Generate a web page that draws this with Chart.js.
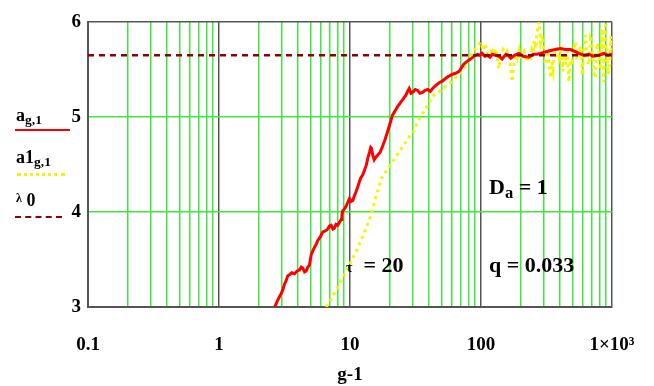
<!DOCTYPE html>
<html>
<head>
<meta charset="utf-8">
<script src="https://cdn.jsdelivr.net/npm/chart.js@4.4.1/dist/chart.umd.min.js"></script>
<style>
  html, body { margin: 0; padding: 0; background: #fff; }
  #wrap { position: relative; width: 654px; height: 386px; font-family: "Liberation Serif", "Times New Roman", serif; font-weight: bold; color: #000; }
  #chart { position: absolute; left: 0; top: 0; }
  .lbl { position: absolute; white-space: nowrap; line-height: 1; }
  .lbl sub { font-size: 75%; vertical-align: -0.25em; }
  .key { position: absolute; height: 0; }
</style>
</head>
<body>
<div id="wrap">
  <canvas id="chart" width="654" height="386"></canvas>

  <!-- legend on the left, Mathcad style -->
  <div class="lbl" style="left:16px;top:106px;font-size:18px">a<sub>g,1</sub></div>
  <div class="key" style="left:15px;top:129px;width:55px;border-top:2px solid #ff0000"></div>
  <div class="lbl" style="left:16px;top:148px;font-size:18px">a1<sub>g,1</sub></div>
  <div class="key" style="left:17px;top:173px;width:48px;border-top:3px dotted #f5f500"></div>
  <div class="lbl" style="left:16px;top:191px;font-size:18px"><span style="font-size:12px;vertical-align:4px">λ</span> 0</div>
  <div class="key" style="left:15px;top:216px;width:47px;border-top:2px dashed #8b0000"></div>

  <!-- annotations -->
  <div class="lbl" style="left:489px;top:176px;font-size:22px">D<sub>a</sub> = 1</div>
  <div class="lbl" style="left:346px;top:254px;font-size:22px"><span style="font-size:14px">τ</span>&nbsp; = 20</div>
  <div class="lbl" style="left:489px;top:254px;font-size:22px">q = 0.033</div>
</div>

<script>
// x axis: decades and their labels
const xDecades = [0.1, 1, 10, 100, 1000];
const xDecadeLabels = ['0.1', '1', '10', '100', '1×10³'];
const yTicks = [3, 4, 5, 6];

// a g,1 (red)
const redX = [2.66, 2.78, 2.90, 2.98, 3.07, 3.16, 3.26, 3.35, 3.45, 3.60,
  3.77, 3.95, 4.12, 4.24, 4.36, 4.50, 4.63, 4.77, 4.91, 4.98,
  5.06, 5.20, 5.36, 5.52, 5.68, 5.95, 6.20, 6.48, 6.76, 6.95,
  7.18, 7.40, 7.60, 7.82, 8.05, 8.30, 8.55, 8.68, 8.79, 9.05,
  9.33, 9.60, 9.89, 10.2, 10.5, 10.8, 11.1, 11.5, 11.8, 12.1,
  12.5, 12.9, 13.3, 13.7, 14.1, 14.4, 14.6, 14.9, 15.3, 15.8,
  16.3, 17.0, 17.7, 18.5, 19.4, 20.0, 20.5, 21.1, 22.0, 23.1,
  24.5, 25.5, 26.7, 27.5, 28.3, 29.2, 30.1, 31.5, 32.8, 34.2,
  35.8, 37.5, 39.1, 41.0, 42.7, 45.0, 48.0, 51.0, 54.0, 57.0,
  60.6, 64.0, 68.1, 71.0, 74.3, 77.5, 81.1, 85.0, 88.5, 93.9,
  98, 102, 107, 112, 117, 122, 129, 137, 145, 155,
  162, 169, 180, 195, 210, 232, 250, 267, 285, 300,
  320, 340, 370, 405, 440, 483, 520, 558, 610, 665,
  720, 794, 870, 930, 1000];
const redY = [3.00, 3.06, 3.11, 3.14, 3.18, 3.24, 3.28, 3.33, 3.34, 3.36,
  3.35, 3.38, 3.39, 3.42, 3.41, 3.37, 3.38, 3.42, 3.44, 3.50,
  3.55, 3.59, 3.63, 3.66, 3.70, 3.74, 3.79, 3.80, 3.82, 3.85,
  3.86, 3.82, 3.83, 3.87, 3.86, 3.89, 3.92, 3.97, 4.01, 4.03,
  4.06, 4.10, 4.14, 4.11, 4.12, 4.17, 4.21, 4.27, 4.32, 4.36,
  4.39, 4.44, 4.49, 4.57, 4.63, 4.68, 4.67, 4.60, 4.55, 4.58,
  4.60, 4.63, 4.69, 4.76, 4.85, 4.91, 4.96, 5.02, 5.06, 5.11,
  5.16, 5.19, 5.23, 5.27, 5.30, 5.25, 5.26, 5.29, 5.28, 5.25,
  5.26, 5.28, 5.29, 5.27, 5.30, 5.33, 5.36, 5.38, 5.41, 5.43,
  5.45, 5.46, 5.48, 5.52, 5.56, 5.58, 5.60, 5.62, 5.64, 5.66,
  5.65, 5.67, 5.64, 5.65, 5.63, 5.66, 5.65, 5.64, 5.61, 5.66,
  5.65, 5.62, 5.65, 5.67, 5.64, 5.63, 5.66, 5.66, 5.67, 5.68,
  5.69, 5.70, 5.71, 5.72, 5.71, 5.71, 5.69, 5.67, 5.65, 5.66,
  5.64, 5.65, 5.67, 5.65, 5.66];

// a1 g,1 (yellow dotted)
const yelX = [6.58, 7.38, 8.30, 9.33, 10.2, 11.1, 12.5, 14.1, 15.3, 17.3,
  19.95, 22.4, 25.2, 28.3, 30.9, 32.8, 35.8, 39.1, 42.7, 48.0,
  57.1, 64.3, 72.1, 78.7, 83.6, 87, 91.2, 95, 99.6, 102,
  104, 107, 109, 112, 114, 117, 119, 122, 125, 128,
  130, 134, 137, 140, 143, 147, 150, 155, 159, 163,
  166, 170, 173, 176, 179, 184, 189, 195, 200, 206,
  213, 219, 226, 232, 239, 245, 250, 255, 261, 268,
  277, 285, 294, 302, 311, 318, 325, 332, 340, 348,
  355, 363, 371, 380, 388, 396, 405, 414, 423, 432,
  442, 455, 469, 482, 497, 512, 527, 542, 558, 575,
  592, 610, 628, 646, 665, 685, 705, 726, 748, 770,
  793, 816, 840, 852, 865, 878, 891, 905, 918, 940,
  962, 980, 1000];
const yelY = [3.00, 3.11, 3.25, 3.37, 3.48, 3.58, 3.74, 3.92, 4.09, 4.35,
  4.48, 4.58, 4.69, 4.79, 4.86, 4.95, 5.04, 5.12, 5.22, 5.27,
  5.35, 5.42, 5.49, 5.56, 5.64, 5.70, 5.72, 5.76, 5.79, 5.74,
  5.70, 5.77, 5.74, 5.66, 5.62, 5.70, 5.69, 5.73, 5.66, 5.70,
  5.72, 5.60, 5.51, 5.62, 5.64, 5.71, 5.69, 5.63, 5.69, 5.66,
  5.58, 5.48, 5.37, 5.50, 5.55, 5.66, 5.62, 5.70, 5.60, 5.66,
  5.69, 5.62, 5.58, 5.66, 5.63, 5.71, 5.68, 5.80, 5.72, 5.90,
  6.00, 5.78, 5.86, 5.70, 5.55, 5.62, 5.66, 5.52, 5.41, 5.58,
  5.50, 5.70, 5.62, 5.68, 5.75, 5.63, 5.69, 5.60, 5.48, 5.66,
  5.55, 5.70, 5.37, 5.60, 5.58, 5.72, 5.79, 5.60, 5.65, 5.74,
  5.44, 5.70, 5.86, 5.60, 5.55, 5.82, 5.76, 5.48, 5.41, 5.78,
  5.69, 5.50, 5.93, 5.60, 5.37, 5.75, 6.00, 5.58, 5.72, 5.45,
  5.55, 5.85, 5.69];

// lambda 0 level
const lambda0 = 5.65;

const GREEN = '#3ee83e';
const FRAME = '#555555';
const tickFont = { family: '"Liberation Serif", "Times New Roman", serif', size: 19, weight: 'bold' };

const toPoints = (xs, ys) => xs.map((x, i) => ({ x: x, y: ys[i] }));

new Chart(document.getElementById('chart'), {
  type: 'scatter',
  data: {
    datasets: [
      {
        label: 'λ0',
        data: [{ x: xDecades[0], y: lambda0 }, { x: xDecades[xDecades.length - 1], y: lambda0 }],
        showLine: true,
        borderColor: '#8b0000',
        borderWidth: 2.5,
        borderDash: [6, 5],
        pointRadius: 0,
        order: 0
      },
      {
        label: 'a g,1',
        data: toPoints(redX, redY),
        showLine: true,
        borderColor: '#ff0000',
        borderWidth: 3,
        pointRadius: 0,
        order: 1
      },
      {
        label: 'a1 g,1',
        data: toPoints(yelX, yelY),
        showLine: true,
        borderColor: '#f5f500',
        borderWidth: 3,
        borderDash: [3, 4],
        pointRadius: 0,
        order: 2
      }
    ]
  },
  options: {
    responsive: false,
    animation: false,
    devicePixelRatio: 1,
    layout: { padding: { top: 22, right: 42, left: 0, bottom: 0 } },
    plugins: { legend: { display: false }, tooltip: { enabled: false } },
    scales: {
      x: {
        type: 'logarithmic',
        min: xDecades[0],
        max: xDecades[xDecades.length - 1],
        afterBuildTicks: (scale) => {
          const ticks = [];
          xDecades.forEach((d, i) => {
            ticks.push({ value: d, major: true });
            if (i < xDecades.length - 1) {
              for (let m = 2; m <= 9; m++) ticks.push({ value: d * m });
            }
          });
          scale.ticks = ticks;
        },
        afterFit: (scale) => {
          scale.height = 79;
          scale.paddingLeft = 0;
          scale.paddingRight = 0;
        },
        grid: {
          drawTicks: false,
          lineWidth: 1.5,
          color: (ctx) => (ctx.tick && xDecades.includes(ctx.tick.value)) ? FRAME : GREEN
        },
        border: { color: FRAME, width: 2 },
        ticks: {
          autoSkip: false,
          maxRotation: 0,
          padding: 27,
          color: '#000',
          font: tickFont,
          callback: (value) => {
            const i = xDecades.indexOf(value);
            return i >= 0 ? xDecadeLabels[i] : '';
          }
        },
        title: {
          display: true,
          text: 'g-1',
          color: '#000',
          font: tickFont,
          padding: { top: 0, bottom: 0 }
        }
      },
      y: {
        min: yTicks[0],
        max: yTicks[yTicks.length - 1],
        afterBuildTicks: (scale) => { scale.ticks = yTicks.map(v => ({ value: v })); },
        afterFit: (scale) => { scale.width = 88; },
        grid: {
          drawTicks: false,
          lineWidth: 1.5,
          color: (ctx) => (ctx.tick && (ctx.tick.value === yTicks[0] || ctx.tick.value === yTicks[yTicks.length - 1])) ? FRAME : GREEN
        },
        border: { color: FRAME, width: 2 },
        ticks: {
          padding: 7,
          color: '#000',
          font: tickFont
        }
      }
    }
  }
});
</script>
</body>
</html>
